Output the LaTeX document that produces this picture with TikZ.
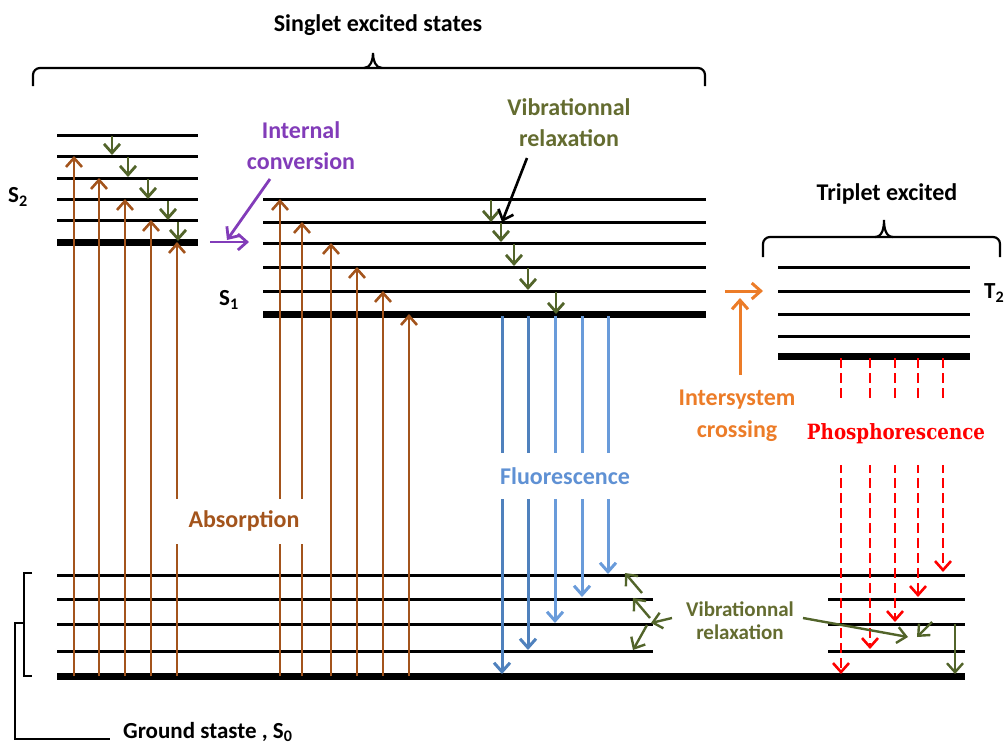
\documentclass[tikz,border=0pt]{standalone}
\usepackage{fontspec}
\setmainfont{Carlito}
\newfontfamily\slabfont[FakeStretch=0.87]{DejaVu Serif}
\usetikzlibrary{arrows.meta}
\definecolor{brn}{RGB}{163,84,28}
\definecolor{olv}{RGB}{82,100,42}
\definecolor{olvtxt}{RGB}{100,108,48}
\definecolor{purp}{RGB}{130,60,185}
\definecolor{bluedk}{RGB}{79,129,189}
\definecolor{bluelt}{RGB}{105,155,218}
\definecolor{bluetxt}{RGB}{95,145,212}
\definecolor{orng}{RGB}{236,124,40}
\begin{document}
\begin{tikzpicture}[x=1pt,y=-1pt,
  lvl/.style={line width=3pt},
  lvlthick/.style={line width=7pt},
  tip/.style={-{Straight Barb[length=9pt,width=16pt]}},
  absorb/.style={tip,draw=brn,line width=2.6pt},
  vib/.style={tip,draw=olv,line width=2.8pt},
  fluo/.style={tip,line width=3pt},
  phos/.style={tip,draw=red,line width=2.6pt,dash pattern=on 10pt off 5pt},
  lbl/.style={font=\bfseries\fontsize{24}{31}\selectfont,align=center,inner sep=0pt},
  slbl/.style={lbl,font=\bfseries\fontsize{23}{26}\selectfont},
  bracket/.style={line width=2.2pt,rounded corners=7pt}]
\useasboundingbox (0,0) rectangle (1008,745);

% ---------- top brace ----------
\draw[bracket] (33,86) -- (33,68) -- (705,68) -- (705,86);
\draw[line width=2.2pt] (364,68) to[out=0,in=-90] (373,53) to[out=-90,in=180] (382,68);
\node[lbl] (singlet) at (378,25) {Singlet excited states};

% ---------- S2 levels ----------
\foreach \y in {135,156,178,199,220} \draw[lvl] (57,\y) -- (198,\y);
\draw[lvlthick] (57,242) -- (198,242);
\node[slbl] (s2) at (18,197) {S\textsubscript{2}};

% ---------- S1 levels ----------
\foreach \y in {199,222,243,267,291} \draw[lvl] (263,\y) -- (706,\y);
\draw[lvlthick] (263,314) -- (706,314);
\node[slbl] (s1) at (229,300) {S\textsubscript{1}};

% ---------- Triplet levels ----------
\foreach \y in {267,291,314,336} \draw[lvl] (778,\y) -- (970,\y);
\draw[lvlthick] (778,356) -- (970,356);
\draw[bracket] (763,257) -- (763,237) -- (1000,237) -- (1000,257);
\draw[line width=2.2pt] (875,237) to[out=0,in=-90] (884,220) to[out=-90,in=180] (893,237);
\node[lbl] (triplet) at (887,194) {Triplet excited};
\node[slbl,anchor=west] (t2) at (984,293) {T\textsubscript{2}};

% ---------- Ground levels ----------
\draw[lvl] (57,575) -- (965,575);
\foreach \y in {599,624,651} {\draw[lvl] (57,\y) -- (653,\y); \draw[lvl] (828,\y) -- (965,\y);}
\draw[lvlthick] (57,676) -- (965,676);
\draw[line width=2.2pt] (32,573) -- (24,573) -- (24,676) -- (32,676);
\draw[line width=2.2pt] (24,623) -- (15,623) -- (15,739) -- (110,739);
\node[slbl,anchor=west] (ground) at (123,732) {Ground staste , S\textsubscript{0}};

% ---------- Absorption ----------
\foreach \x/\y in {74/156,99/178,125/199,151/220,177/242,280/199,302/222,331/243,357/267,383/291,409/314}
  \draw[absorb] (\x,676) -- (\x,\y);
\node[lbl,text=brn,fill=white,minimum width=140pt,minimum height=45pt] (absorption) at (244,521) {Absorption};

% ---------- Vibrational relaxation (excited) ----------
\foreach \x/\a/\b in {112/136/155,128/157/177,148/179/199,168/201/220,178/222/241,491/200/222,501/223/242,514/244/266,528/268/290,556/292/314}
  \draw[vib] (\x,\a) -- (\x,\b);
\node[lbl,text=olvtxt] (vibtop) at (569,123) {Vibrationnal\\relaxation};
\coordinate (vibtopend) at (502,222);
\draw[tip,line width=2.6pt] (527,158) -- (vibtopend);

% ---------- Internal conversion ----------
\node[lbl,text=purp] (ic) at (301,146) {Internal\\conversion};
\draw[tip,draw=purp,line width=2.8pt] (210,242) -- (249,242);
\draw[tip,draw=purp,line width=2.8pt] (270,179) -- (227,240);

% ---------- Fluorescence ----------
\foreach \x/\y/\c in {502/674/bluedk,528/650/bluedk,555/623/bluelt,582/597/bluelt,608/574/bluelt}
  \draw[fluo,draw=\c] (\x,316) -- (\x,\y);
\node[lbl,text=bluetxt,fill=white,minimum width=136pt,minimum height=46pt] (fluorescence) at (565,476) {Fluorescence};

% ---------- Intersystem crossing ----------
\draw[tip,draw=orng,line width=3pt] (740,375) -- (740,298);
\draw[tip,draw=orng,line width=3pt] (725,291) -- (763,291);
\node[lbl,text=orng,font=\bfseries\fontsize{24}{32}\selectfont] (isc) at (737,416) {Intersystem\\crossing};

% ---------- Phosphorescence ----------
\foreach \x/\y in {841/674,870/649,895/622,918/597,943/572}
  \draw[phos] (\x,358) -- (\x,\y);
\node[lbl,text=red,fill=white,font=\slabfont\bfseries\fontsize{21}{24}\selectfont,minimum width=190pt,minimum height=62pt] (phosph) at (896,434) {Phosphorescence};

% ---------- Vibrational relaxation (ground) ----------
\node[lbl,text=olvtxt,font=\bfseries\fontsize{21}{23}\selectfont] (vibbot) at (740,621) {Vibrationnal\\relaxation};
\draw[vib,line width=2.4pt] (642,593) -- (625,573);
\draw[vib,line width=2.4pt] (650,618) -- (633,598);
\draw[vib,line width=2.4pt] (672,618) -- (651,623);
\draw[vib,line width=2.4pt] (647,625) -- (633,650);
\draw[vib,line width=2.4pt] (803,618) -- (908,637);
\draw[vib,line width=2.4pt] (932,622) -- (917,637);
\draw[vib,line width=2.4pt] (955,624) -- (955,674);
\end{tikzpicture}
\end{document}
